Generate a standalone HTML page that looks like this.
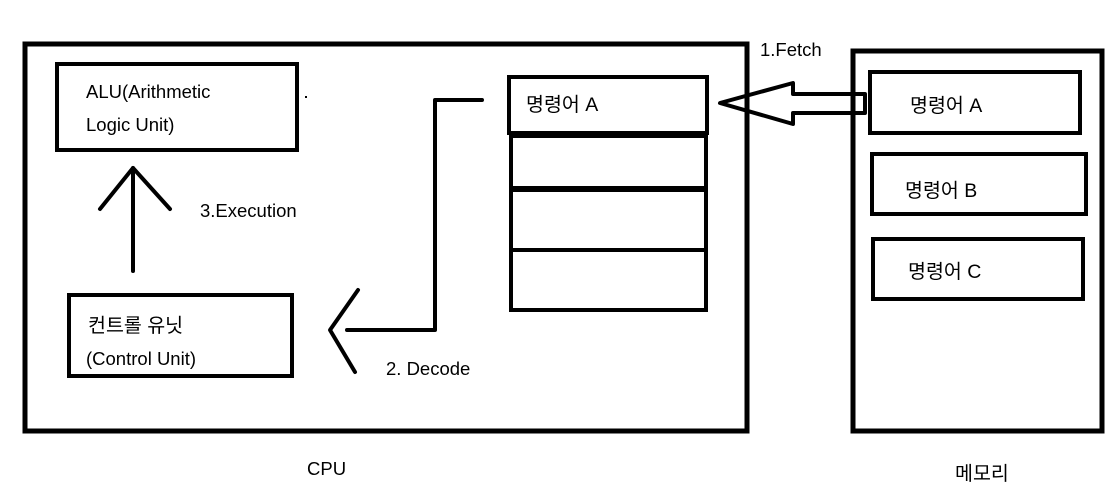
<!DOCTYPE html>
<html><head><meta charset="utf-8"><style>
html,body{margin:0;padding:0;background:#fff;}
svg{display:block;}
text{font-family:"Liberation Sans","Noto Sans CJK KR",sans-serif;font-size:18.5px;fill:#000;}
.k{font-size:19.5px;}
</style></head><body>
<svg width="1117" height="498" viewBox="0 0 1117 498" xmlns="http://www.w3.org/2000/svg">
<g fill="none" stroke="#000" stroke-width="5">
<rect x="25" y="44" width="722" height="387"/>
<rect x="853" y="51" width="249" height="380"/>
</g>
<g fill="none" stroke="#000" stroke-width="4">
<rect x="57" y="64" width="240" height="86"/>
<rect x="69" y="295" width="223" height="81"/>
<rect x="509" y="77" width="198" height="56"/>
<rect x="511" y="136" width="195" height="52"/>
<rect x="511" y="190" width="195" height="60"/>
<rect x="511" y="250" width="195" height="60"/>
<rect x="870" y="72" width="210" height="61"/>
<rect x="872" y="154" width="214" height="60"/>
<rect x="873" y="239" width="210" height="60"/>
</g>
<g fill="none" stroke="#000" stroke-width="4" stroke-linecap="round" stroke-linejoin="round">
<line x1="133" y1="271" x2="133" y2="168"/>
<polyline points="100,209 133,168 170,209"/>
<polyline points="482,100 435,100 435,330 347,330"/>
<polyline points="358,290 330,330 355,372"/>
<polygon points="720,103 793,83 793,94 865,94 865,113 793,113 793,124"/>
</g>
<rect x="305" y="96" width="2" height="2" fill="#000"/>
<text x="86" y="98">ALU(Arithmetic</text>
<text x="86" y="131">Logic Unit)</text>
<text x="200" y="217">3.Execution</text>
<text class="k" x="88" y="332">컨트롤 유닛</text>
<text x="86" y="365">(Control Unit)</text>
<text x="386" y="375">2. Decode</text>
<text class="k" x="526" y="111">명령어 A</text>
<text x="760" y="56">1.Fetch</text>
<text class="k" x="910" y="112">명령어 A</text>
<text class="k" x="905" y="197">명령어 B</text>
<text class="k" x="908" y="278">명령어 C</text>
<text x="307" y="475">CPU</text>
<text class="k" x="955" y="480">메모리</text>
</svg>
</body></html>
